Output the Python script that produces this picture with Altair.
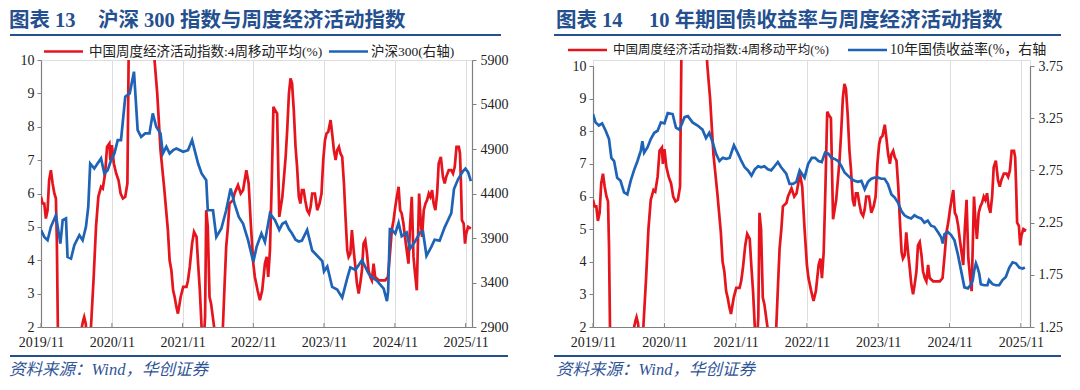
import altair as alt
import pandas as pd

# ---------------- data ----------------
series_names = ["中国周度经济活动指数:4周移动平均(%)", "沪深300(右轴)", "10年国债收益率(%，右轴"]

econ_dates = [
    "2019-11-01", "2019-11-09", "2019-11-18", "2019-11-26", "2019-12-05", "2019-12-13", "2019-12-22", "2019-12-31",
    "2020-01-09", "2020-01-17", "2020-01-22", "2020-01-29", "2020-02-07", "2020-03-06", "2020-04-03", "2020-05-01",
    "2020-05-22", "2020-05-30", "2020-06-06", "2020-06-11", "2020-06-19", "2020-06-27", "2020-07-07", "2020-07-16",
    "2020-07-30", "2020-08-11", "2020-08-23", "2020-09-06", "2020-09-15", "2020-09-27", "2020-10-07", "2020-10-19",
    "2020-10-24", "2020-11-01", "2020-11-11", "2020-11-23", "2020-12-05", "2020-12-16", "2020-12-28", "2021-01-09",
    "2021-01-20", "2021-01-28", "2021-02-15", "2021-03-20", "2021-04-20", "2021-05-20", "2021-06-09", "2021-06-23",
    "2021-07-10", "2021-07-30", "2021-08-17", "2021-08-26", "2021-09-04", "2021-09-13", "2021-09-21", "2021-09-30",
    "2021-10-08", "2021-10-22", "2021-11-04", "2021-11-21", "2021-11-29", "2021-12-08", "2021-12-20", "2021-12-30",
    "2022-01-12", "2022-01-20", "2022-01-29", "2022-02-07", "2022-02-15", "2022-02-25", "2022-03-03", "2022-03-11",
    "2022-03-20", "2022-03-28", "2022-04-15", "2022-05-01", "2022-05-20", "2022-05-28", "2022-06-06", "2022-06-14",
    "2022-06-23", "2022-07-01", "2022-07-19", "2022-07-27", "2022-08-14", "2022-08-28", "2022-09-09", "2022-09-26",
    "2022-10-08", "2022-10-19", "2022-11-01", "2022-11-09", "2022-11-23", "2022-12-05", "2022-12-17", "2022-12-31",
    "2023-01-09", "2023-01-17", "2023-01-26", "2023-02-04", "2023-02-13", "2023-02-21", "2023-03-04", "2023-03-15",
    "2023-03-31", "2023-04-17", "2023-04-25", "2023-05-04", "2023-05-12", "2023-05-20", "2023-05-29", "2023-06-07",
    "2023-06-15", "2023-06-24", "2023-07-02", "2023-07-10", "2023-07-19", "2023-07-27", "2023-08-06", "2023-08-16",
    "2023-08-24", "2023-09-01", "2023-09-15", "2023-09-27", "2023-10-09", "2023-10-19", "2023-10-28", "2023-11-06",
    "2023-11-14", "2023-11-23", "2023-12-05", "2023-12-13", "2023-12-22", "2023-12-31", "2024-01-08", "2024-01-17",
    "2024-01-25", "2024-02-03", "2024-02-12", "2024-02-20", "2024-02-29", "2024-03-07", "2024-03-16", "2024-03-24",
    "2024-04-02", "2024-04-11", "2024-04-19", "2024-04-28", "2024-05-06", "2024-05-15", "2024-05-23", "2024-06-01",
    "2024-06-10", "2024-06-18", "2024-06-27", "2024-07-05", "2024-07-14", "2024-07-22", "2024-08-09", "2024-08-26",
    "2024-09-12", "2024-09-26", "2024-10-08", "2024-10-16", "2024-10-25", "2024-11-03", "2024-11-11", "2024-11-20",
    "2024-11-28", "2024-12-06", "2024-12-15", "2024-12-23", "2025-01-01", "2025-01-10", "2025-01-18", "2025-01-27",
    "2025-02-05", "2025-02-13", "2025-02-22", "2025-03-01", "2025-03-06", "2025-03-13", "2025-03-21", "2025-03-30",
    "2025-04-08", "2025-04-16", "2025-04-25", "2025-05-03", "2025-05-12", "2025-05-20", "2025-05-29", "2025-06-07",
    "2025-06-15", "2025-06-26", "2025-07-07", "2025-07-16", "2025-07-24", "2025-08-06", "2025-08-19", "2025-08-28",
    "2025-09-06", "2025-09-15", "2025-09-27", "2025-10-03", "2025-10-08", "2025-10-13", "2025-10-22", "2025-10-29",
    "2025-11-04", "2025-11-14", "2025-11-28",
]
econ_values = [
    5.9, 5.7, 5.7, 5.25, 5.5, 6.4, 6.7, 6.3,
    6.0, 5.85, 4.5, 1.0, -3.0, -6.0, -3.0, -0.5,
    1.2, 2.0, 2.2, 2.3, 2.1, 1.5, 1.6, 2.0,
    3.5, 5.0, 5.9, 6.2, 6.15, 6.6, 7.4, 7.5,
    7.0, 7.45, 6.9, 6.6, 6.4, 6.0, 5.85, 5.9,
    6.3, 11.0, 16.0, 19.0, 16.0, 12.0, 10.0, 9.0,
    7.3, 6.1, 4.9, 4.0, 3.7, 3.1, 2.9, 2.6,
    2.4, 2.9, 3.2, 3.2, 3.4, 3.8, 4.5, 4.85,
    4.7, 3.9, 3.1, 2.0, 1.2, 2.3, 5.5, 5.0,
    2.9, 2.7, 1.9, 0.5, 1.0, 2.0, 3.3, 4.4,
    5.0, 5.7, 5.8, 6.0, 6.25, 6.0, 6.1, 6.7,
    6.3, 5.1, 3.9, 3.5, 3.1, 2.8, 3.1, 3.9,
    4.1, 3.5, 4.3, 6.3, 8.6, 8.5, 8.4, 5.3,
    5.9, 7.1, 7.9, 9.0, 9.45, 9.3, 8.5, 7.4,
    6.8, 5.9, 5.7, 6.1, 6.1, 5.8, 5.5, 5.4,
    5.6, 6.0, 6.0, 5.5, 5.7, 6.0, 7.0, 7.6,
    7.8, 7.85, 8.2, 7.8, 7.3, 7.0, 7.3, 7.4,
    7.2, 7.1, 6.3, 5.3, 4.3, 4.1, 4.2, 4.9,
    4.3, 3.8, 3.3, 3.0, 3.3, 3.7, 4.5, 4.6,
    4.2, 3.7, 3.5, 3.4, 3.9, 3.5, 3.4, 3.4,
    3.4, 3.5, 4.3, 4.9, 5.2, 5.6, 5.9, 6.2,
    5.5, 5.4, 5.1, 4.7, 4.3, 3.9, 5.0, 5.9,
    4.1, 3.6, 3.1, 4.8, 6.0, 5.3, 4.7, 5.5,
    5.7, 5.8, 6.0, 5.9, 6.1, 5.7, 5.5, 6.0,
    6.9, 7.1, 6.5, 6.3, 6.5, 6.7, 6.7, 6.6,
    6.8, 7.4, 7.4, 7.2, 6.3, 5.2, 5.1, 4.5,
    4.8, 5.0, 4.95,
]

hs300_dates = [
    "2019-11-01", "2019-11-18", "2019-12-05", "2019-12-22", "2020-01-17", "2020-02-09", "2020-02-21", "2020-03-09",
    "2020-03-17", "2020-04-04", "2020-04-21", "2020-05-17", "2020-06-03", "2020-06-20", "2020-07-02", "2020-07-12",
    "2020-08-02", "2020-08-19", "2020-09-06", "2020-09-23", "2020-10-10", "2020-10-28", "2020-11-14", "2020-12-01",
    "2020-12-18", "2021-01-09", "2021-02-01", "2021-02-23", "2021-03-14", "2021-04-01", "2021-04-22", "2021-05-14",
    "2021-05-31", "2021-06-18", "2021-07-10", "2021-07-22", "2021-08-09", "2021-08-26", "2021-09-13", "2021-09-30",
    "2021-11-04", "2021-11-29", "2021-12-20", "2022-01-20", "2022-02-07", "2022-03-03", "2022-03-11", "2022-04-07",
    "2022-04-24", "2022-05-20", "2022-06-14", "2022-07-07", "2022-07-27", "2022-08-18", "2022-09-09", "2022-10-05",
    "2022-11-01", "2022-11-18", "2022-12-13", "2022-12-31", "2023-01-26", "2023-02-21", "2023-03-15", "2023-03-31",
    "2023-04-17", "2023-05-04", "2023-05-20", "2023-06-07", "2023-06-24", "2023-07-10", "2023-08-06", "2023-09-01",
    "2023-09-27", "2023-10-23", "2023-11-01", "2023-11-18", "2023-12-13", "2024-01-08", "2024-02-03", "2024-02-29",
    "2024-03-16", "2024-04-11", "2024-05-15", "2024-06-18", "2024-07-05", "2024-07-31", "2024-09-04", "2024-09-21",
    "2024-09-27", "2024-10-06", "2024-10-13", "2024-11-03", "2024-11-20", "2024-12-06", "2025-01-01", "2025-01-18",
    "2025-02-13", "2025-03-10", "2025-03-26", "2025-04-13", "2025-05-08", "2025-05-25", "2025-06-20", "2025-07-16",
    "2025-08-02", "2025-08-19", "2025-09-02", "2025-09-23", "2025-10-18", "2025-10-31", "2025-11-14", "2025-11-28",
]
hs300_values = [
    3990, 3912, 3875, 4025, 4156, 3837, 4100, 4119,
    3687, 3669, 3819, 3931, 3875, 4025, 4250, 4737,
    4681, 4737, 4794, 4625, 4662, 4775, 4850, 5000,
    5000, 5487, 5525, 5769, 5112, 5037, 5075, 5075,
    5300, 5150, 5075, 4850, 4925, 4850, 4887, 4906,
    4869, 4887, 5000, 4737, 4625, 4550, 4212, 4212,
    3912, 4006, 4212, 4456, 4287, 4137, 4062, 3875,
    3631, 3800, 3950, 3856, 4175, 4100, 3992, 4060,
    4080, 4000, 3950, 3880, 3860, 3870, 3990, 3760,
    3700, 3640, 3525, 3580, 3350, 3320, 3230, 3450,
    3570, 3540, 3650, 3500, 3460, 3420, 3330, 3190,
    3300, 4000, 4000, 3950, 4070, 3920, 3960, 3780,
    3860, 3960, 3970, 3700, 3800, 3880, 3870, 4020,
    4100, 4180, 4450, 4560, 4650, 4680, 4640, 4540,
]

cgb_dates = [
    "2019-11-01", "2019-11-14", "2019-12-01", "2019-12-18", "2020-01-05", "2020-01-22", "2020-02-03", "2020-02-17",
    "2020-03-04", "2020-03-21", "2020-04-08", "2020-04-25", "2020-05-12", "2020-05-29", "2020-06-16", "2020-07-03",
    "2020-07-11", "2020-07-20", "2020-08-06", "2020-08-23", "2020-09-10", "2020-09-27", "2020-10-14", "2020-11-01",
    "2020-11-18", "2020-12-13", "2020-12-30", "2021-01-17", "2021-02-12", "2021-03-01", "2021-03-25", "2021-04-20",
    "2021-05-15", "2021-06-02", "2021-06-19", "2021-07-06", "2021-07-23", "2021-08-10", "2021-08-27", "2021-09-14",
    "2021-10-01", "2021-10-23", "2021-11-13", "2021-11-30", "2021-12-17", "2022-01-03", "2022-01-21", "2022-02-07",
    "2022-02-24", "2022-03-11", "2022-03-28", "2022-04-15", "2022-05-02", "2022-05-19", "2022-06-05", "2022-06-22",
    "2022-07-18", "2022-08-04", "2022-08-21", "2022-09-08", "2022-09-25", "2022-10-20", "2022-11-07", "2022-11-26",
    "2022-12-13", "2022-12-30", "2023-01-16", "2023-02-02", "2023-02-19", "2023-03-06", "2023-03-23", "2023-04-10",
    "2023-04-27", "2023-05-13", "2023-05-30", "2023-06-16", "2023-07-03", "2023-07-20", "2023-08-07", "2023-08-24",
    "2023-09-10", "2023-09-27", "2023-10-14", "2023-11-01", "2023-11-18", "2023-12-04", "2023-12-21", "2024-01-08",
    "2024-01-25", "2024-02-11", "2024-02-28", "2024-03-15", "2024-04-01", "2024-04-18", "2024-05-05", "2024-05-22",
    "2024-06-08", "2024-06-25", "2024-07-12", "2024-07-29", "2024-08-15", "2024-09-02", "2024-09-19", "2024-09-27",
    "2024-10-06", "2024-10-23", "2024-11-09", "2024-11-26", "2024-12-13", "2024-12-30", "2025-01-16", "2025-02-03",
    "2025-02-20", "2025-02-28", "2025-03-07", "2025-03-16", "2025-03-24", "2025-04-02", "2025-04-10", "2025-04-27",
    "2025-05-14", "2025-05-22", "2025-06-09", "2025-06-26", "2025-07-13", "2025-07-30", "2025-08-16", "2025-09-03",
    "2025-09-20", "2025-10-07", "2025-10-24", "2025-11-10", "2025-11-22",
]
cgb_values = [
    3.29, 3.21, 3.18, 3.20, 3.13, 3.05, 2.87, 2.84,
    2.68, 2.65, 2.54, 2.52, 2.65, 2.75, 2.84, 2.94,
    3.03, 2.92, 2.97, 3.05, 3.11, 3.13, 3.21, 3.20,
    3.30, 3.29, 3.16, 3.14, 3.26, 3.27, 3.21, 3.18,
    3.14, 3.06, 3.11, 3.02, 2.91, 2.84, 2.87, 2.86,
    2.87, 2.99, 2.91, 2.84, 2.78, 2.75, 2.70, 2.76,
    2.79, 2.78, 2.79, 2.76, 2.75, 2.79, 2.83, 2.78,
    2.72, 2.62, 2.62, 2.64, 2.75, 2.68, 2.81, 2.87,
    2.87, 2.84, 2.83, 2.92, 2.91, 2.87, 2.86, 2.84,
    2.79, 2.73, 2.70, 2.67, 2.65, 2.64, 2.65, 2.57,
    2.64, 2.67, 2.68, 2.68, 2.67, 2.67, 2.62, 2.52,
    2.49, 2.44, 2.36, 2.32, 2.30, 2.29, 2.32, 2.30,
    2.29, 2.25, 2.27, 2.22, 2.21, 2.16, 2.11, 2.05,
    2.14, 2.16, 2.13, 2.08, 1.95, 1.79, 1.63, 1.62,
    1.66, 1.70, 1.79, 1.86, 1.82, 1.76, 1.66, 1.65,
    1.65, 1.70, 1.66, 1.65, 1.65, 1.70, 1.73, 1.82,
    1.87, 1.86, 1.82, 1.81, 1.82,
]

tick_years = [2019, 2020, 2021, 2022, 2023, 2024, 2025]
econ_ticks = [2, 3, 4, 5, 6, 7, 8, 9, 10]
hs300_ticks = [2900, 3400, 3900, 4400, 4900, 5400, 5900]
cgb_ticks = [1.25, 1.75, 2.25, 2.75, 3.25, 3.75]

titles = [("图表 13", "沪深 300 指数与周度经济活动指数"), ("图表 14", "10 年期国债收益率与周度经济活动指数")]
source_text = "资料来源：Wind，华创证券"

econ_df = pd.DataFrame({"date": econ_dates, "value": econ_values})
hs300_df = pd.DataFrame({"date": hs300_dates, "value": hs300_values})
cgb_df = pd.DataFrame({"date": cgb_dates, "value": cgb_values})
tick_df = pd.DataFrame({"date": [f"{y}-11-01" for y in tick_years]})

# ---------------- styling ----------------
RED = "#E5141D"
BLUE = "#1E63B6"
NAVY = "#24508F"
GRAY = "#808080"
SERIF = "Liberation Serif, Noto Sans CJK SC"
H = 267


def one(text=""):
    return alt.Chart(pd.DataFrame({"t": [text]}))


def hrule(x1, x2, y, color, sw, opacity=1.0):
    return one().mark_rule(color=color, strokeWidth=sw, strokeOpacity=opacity).encode(
        x=alt.value(x1), x2=alt.value(x2), y=alt.value(y))


def label(text, x, y, size, color, font, weight="normal", style="normal"):
    return one(text).mark_text(align="left", baseline="middle", fontSize=size, color=color,
                               font=font, fontWeight=weight, fontStyle=style).encode(
        x=alt.value(x), y=alt.value(y), text="t:N")


def panel(width, x_end, ytop, right_df, right_domain, right_ticks, right_fmt, title, right_name, pos,
          lsize, rsize, ly):
    xscale = alt.Scale(domain=[alt.DateTime(year=2019, month=11, date=1), x_end])
    xenc = alt.X("date:T", scale=xscale, title=None,
                 axis=alt.Axis(values=[alt.DateTime(year=y, month=11, date=1) for y in tick_years],
                               format="%Y/%m", ticks=False, labelPadding=8, labelFlush=False,
                               labelOverlap=False, domainColor=GRAY, domainWidth=1.2,
                               labelFont=SERIF, labelFontSize=14, labelColor="#222"))
    yrange = [H, ytop]
    red = alt.Chart(econ_df).mark_line(color=RED, strokeWidth=2.7, clip=True).encode(
        x=xenc,
        y=alt.Y("value:Q", title=None, scale=alt.Scale(domain=[2, 10], range=yrange),
                axis=alt.Axis(orient="left", values=econ_ticks, tickSize=4, tickColor=GRAY,
                              domainColor=GRAY, domainWidth=1.2, labelPadding=3, grid=False,
                              labelFont=SERIF, labelFontSize=14, labelColor="#222")))
    blue = alt.Chart(right_df).mark_line(color=BLUE, strokeWidth=2.7, clip=True).encode(
        x=xenc,
        y=alt.Y("value:Q", title=None, scale=alt.Scale(domain=right_domain, range=yrange),
                axis=alt.Axis(orient="right", values=right_ticks, format=right_fmt, tickSize=4,
                              tickColor=GRAY, domainColor=GRAY, domainWidth=1.2, labelPadding=4,
                              grid=False, labelFont=SERIF, labelFontSize=14, labelColor="#222")))
    ticks = alt.Chart(tick_df).mark_rule(color=GRAY, strokeWidth=1).encode(
        x=xenc, y=alt.value(H), y2=alt.value(H - 4))
    deco = [
        hrule(0, 10, -51.5, "#ffffff", 1, 0.0),
        label(title[0], pos["t0"], -39.5, 20.5, NAVY, SERIF, "bold"),
        label(title[1], pos["t1"], -39.5, 20.5, NAVY, SERIF, "bold"),
        hrule(pos["r0"], pos["r1"], -25, NAVY, 2),
        hrule(pos["l0"], pos["l0"] + 39, ly, RED, 2.7),
        label(series_names[0], pos["l0"] + 45, ly, lsize, "#222", SERIF),
        hrule(pos["l1"], pos["l1"] + 39, ly, BLUE, 2.7),
        label(right_name, pos["l1"] + 42, ly, rsize, "#222", SERIF),
        hrule(pos["r0"], pos["r2"], 296, NAVY, 2),
        label(source_text, pos["t0"], 310, 16.5, "#2F5597", SERIF, "normal", "italic"),
    ]
    return alt.layer(red, blue, ticks, *deco).resolve_scale(y="independent").properties(
        width=width, height=H)


left = panel(431, alt.DateTime(year=2025, month=12, date=4), 0, hs300_df, [2900, 5900], hs300_ticks, "d",
             titles[0], series_names[1],
             {"t0": -32, "t1": 57, "r0": -31, "r1": 460, "r2": 467, "l0": 3, "l1": 288}, 13.5, 13.5, -8.5)
right = panel(437, alt.DateTime(year=2025, month=12, date=18), 6, cgb_df, [1.25, 3.75], cgb_ticks, ".2f",
              titles[1], series_names[2],
              {"t0": -37, "t1": 56, "r0": -39, "r1": 468, "r2": 468, "l0": -25, "l1": 255}, 12.5, 14, -10)

chart = alt.hconcat(left, right, spacing=121, bounds="flush").properties(padding=0).configure_view(
    stroke=None).configure(background="white")

chart.save("out.html", embed_options={"renderer": "svg", "actions": False})
